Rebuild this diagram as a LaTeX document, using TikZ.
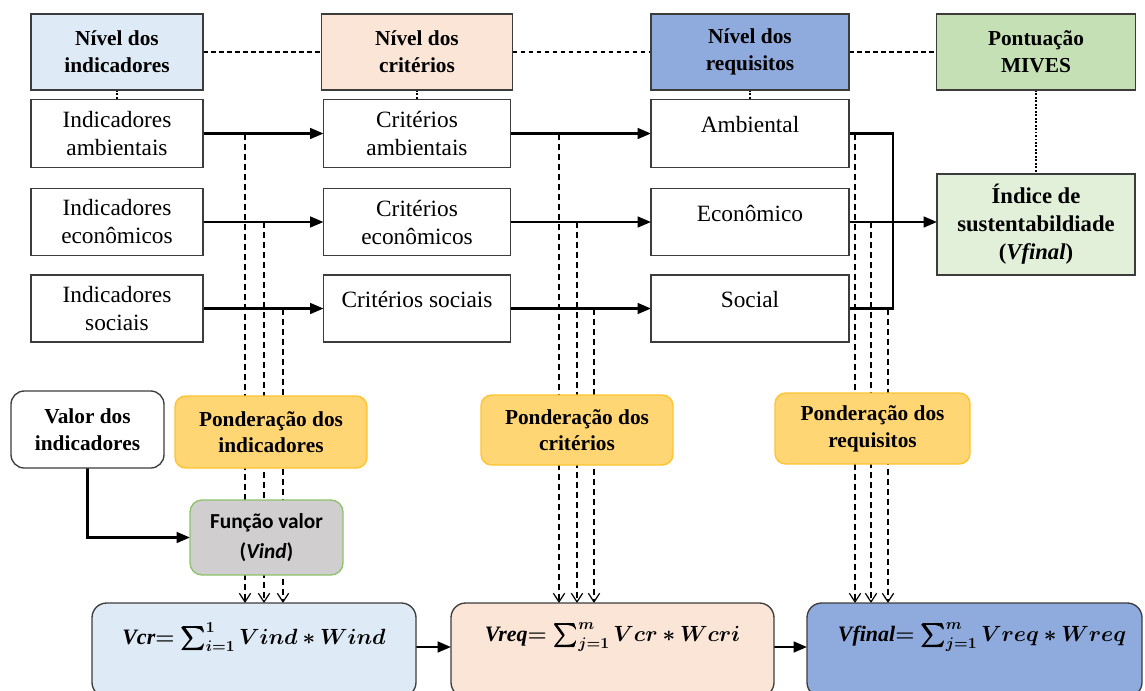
\documentclass[tikz,border=0pt]{standalone}
\usepackage{fix-cm}
\usepackage{fontspec}
\usepackage{amsmath,bm}
\setmainfont{Liberation Serif}
\newfontfamily\calibri{Carlito}
\usetikzlibrary{arrows.meta}
\pgfdeclarelayer{links}
\pgfsetlayers{links,main}

\definecolor{lvlblue}{HTML}{DEEBF7}
\definecolor{lvlpeach}{HTML}{FBE5D6}
\definecolor{lvlnavy}{HTML}{8FAADC}
\definecolor{lvlgreen}{HTML}{C5E0B4}
\definecolor{idxgreen}{HTML}{E2F0D9}
\definecolor{pondfill}{HTML}{FFD673}
\definecolor{ponddraw}{HTML}{FFC32E}
\definecolor{fungray}{HTML}{D0CECE}
\definecolor{funedge}{HTML}{8CC26A}
\definecolor{edge}{HTML}{3C3C3C}

\begin{document}
\begin{tikzpicture}[x=0.75pt,y=-0.75pt,
  sz/.style 2 args={minimum width=#1*0.75pt,minimum height=#2*0.75pt},
  base/.style={draw=edge,line width=1pt,inner sep=0pt,outer sep=0pt},
  header/.style={base,align=center,font=\fontsize{16}{20}\selectfont\bfseries},
  item/.style={base,fill=white,align=center,font=\fontsize{17.5}{21}\selectfont},
  single/.style={base,fill=white,font=\fontsize{17.5}{21}\selectfont,text height=12pt,text depth=13pt},
  pond/.style={base,draw=ponddraw,fill=pondfill,rounded corners=8pt,align=center,font=\fontsize{16}{20}\selectfont\bfseries},
  result/.style={base,rounded corners=11pt},
  formula/.style={inner sep=0pt,font=\fontsize{16.5}{20}\selectfont},
  arr/.style={line width=1.7pt,-{Triangle[length=10pt,width=8pt]}},
  link/.style={line width=1.7pt},
  weight/.style={line width=1pt,dash pattern=on 4.5pt off 3pt,-{Straight Barb[length=6.5pt,width=8.5pt,line width=0.9pt]}},
  levellink/.style={line width=1pt,dash pattern=on 3.5pt off 2.5pt},
  dots/.style={line width=2pt,dash pattern=on 1.4pt off 1.2pt},
]
\useasboundingbox (0,0) rectangle (1145,690);
\clip (0,0) rectangle (1145,690);

% level headers
\node[header,fill=lvlblue,sz={172}{76}] (hInd) at (117,52) {Nível dos\\indicadores};
\node[header,fill=lvlpeach,sz={191}{76}] (hCri) at (417,52) {Nível dos\\critérios};
\node[header,fill=lvlnavy,sz={198}{76}] (hReq) at (750,52) {Nível dos\\requisitos};
\node[header,fill=lvlgreen,sz={199}{76}] (hMiv) at (1036,52) {Pontuação\\MIVES};

% indicators, criteria, requirements
\node[item,sz={172}{68}] (iA) at (117,133.5) {Indicadores\\ambientais};
\node[item,sz={172}{67}] (iE) at (117,222) {Indicadores\\econômicos};
\node[item,sz={172}{67}] (iS) at (117,308.5) {Indicadores\\sociais};
\node[item,sz={187}{68}] (cA) at (417,133.5) {Critérios\\ambientais};
\node[item,sz={187}{67}] (cE) at (417,222) {Critérios\\econômicos};
\node[single,sz={187}{67}] (cS) at (417,308.5) {Critérios sociais};
\node[single,sz={198}{68}] (rA) at (750,133.5) {Ambiental};
\node[single,sz={198}{67}] (rE) at (750,222) {Econômico};
\node[single,sz={198}{67}] (rS) at (750,308.5) {Social};

\node[base,fill=idxgreen,align=center,font=\fontsize{17}{21}\selectfont\bfseries,sz={198}{101}] (idx) at (1036,224.5)
  {Índice de\\sustentabildiade\\(\textit{Vfinal})};

% weighting boxes
\node[pond,sz={192}{72}] (pI) at (271,432) {Ponderação dos\\indicadores};
\node[pond,sz={192}{70}] (pC) at (577,430) {Ponderação dos\\critérios};
\node[pond,sz={195}{71}] (pR) at (872.5,428.5) {Ponderação dos\\requisitos};

\node[base,fill=white,rounded corners=10pt,align=center,font=\fontsize{16}{20}\selectfont\bfseries,sz={153}{77}] (val) at (87.5,429.5)
  {Valor dos\\indicadores};
\node[base,draw=funedge,fill=fungray,rounded corners=9pt,align=center,font=\calibri\fontsize{16}{23}\selectfont\bfseries,sz={153}{75}] (fun) at (266.5,537.5)
  {Função valor\\(\textit{Vind})};

% aggregation boxes
\node[result,fill=lvlblue,sz={324}{94}] (vcr) at (254,650) {};
\node[result,fill=lvlpeach,sz={323}{94}] (vreq) at (612.5,650) {};
\node[result,fill=lvlnavy,sz={335}{94}] (vfin) at (974.5,650) {};

\node[formula] (fcr) at (254,637) {{\bfseries\itshape Vcr}$\boldsymbol{=\sum_{i=1}^{1}Vind\ast Wind}$};
\node[formula] (freq) at (612.5,637) {{\bfseries\itshape Vreq}$\boldsymbol{=\sum_{j=1}^{m}Vcr\ast Wcri}$};
\node[formula] (ffin) at (982,637) {{\bfseries\itshape Vfinal}$\boldsymbol{=\sum_{j=1}^{m}Vreq\ast Wreq}$};

\begin{pgfonlayer}{links}
  % level connections
  \draw[levellink] (hInd) -- (hCri);
  \draw[levellink] (hCri) -- (hReq);
  \draw[levellink] (hReq) -- (hMiv);
  \draw[dots] (hInd.south) -- (iA.north);
  \draw[dots] (hCri.south) -- (cA.north);
  \draw[dots] (hReq.south) -- (rA.north);
  \draw[dots] (hMiv.south) -- (idx.north);

  % main flow
  \draw[arr] (iA) -- (cA);
  \draw[arr] (iE) -- (cE);
  \draw[arr] (iS) -- (cS);
  \draw[arr] (cA) -- (rA);
  \draw[arr] (cE) -- (rE);
  \draw[arr] (cS) -- (rS);
  \coordinate (brk) at (893,133.5);
  \draw[link] (rA.east) -- (brk) |- (rS.east);
  \draw[arr] (rE.east) -- (rE.east -| idx.west);

  % weights
  \foreach \x/\r in {245/iA,264/iE,283/iS}
    \draw[weight] (\x,0 |- \r) -- (\x,0 |- vcr.north);
  \foreach \x/\r in {559/cA,577/cE,594/cS}
    \draw[weight] (\x,0 |- \r) -- (\x,0 |- vreq.north);
  \foreach \x/\r in {855/rA,871/rE,888/rS}
    \draw[weight] (\x,0 |- \r) -- (\x,0 |- vfin.north);

  \draw[arr] (val.south) |- (fun.west);
  \draw[arr] ([yshift=2.25pt]vcr.east) -- ([yshift=2.25pt]vreq.west);
  \draw[arr] ([yshift=2.25pt]vreq.east) -- ([yshift=2.25pt]vfin.west);
\end{pgfonlayer}
\end{tikzpicture}
\end{document}
